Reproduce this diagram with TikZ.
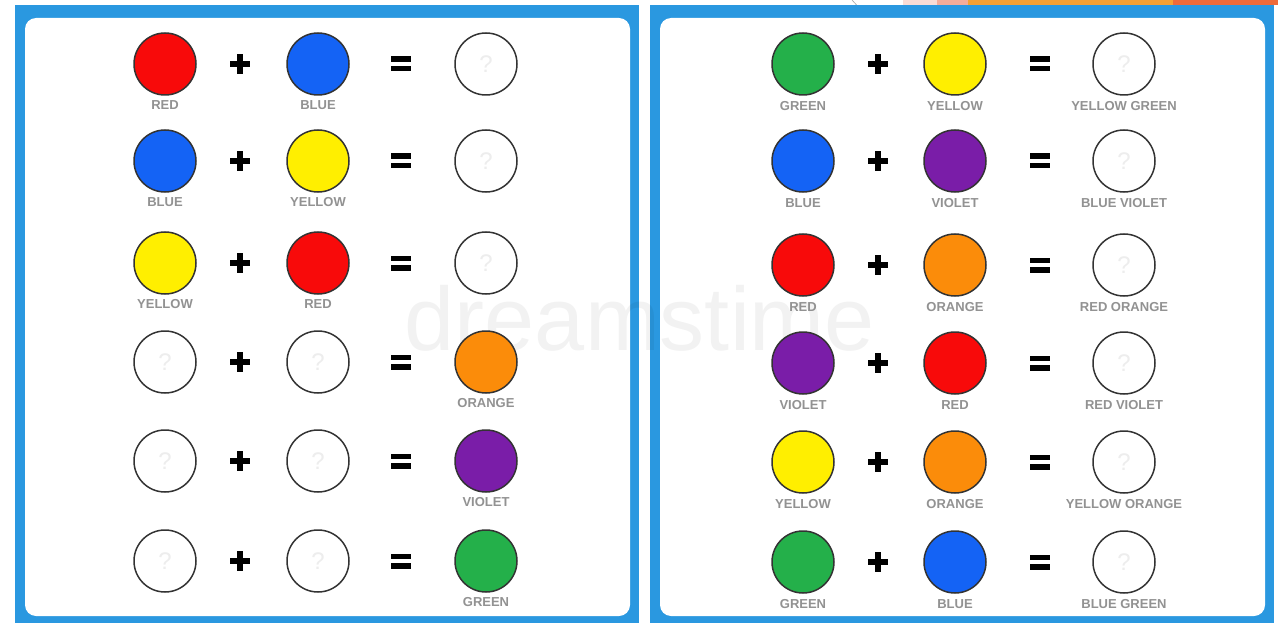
\documentclass[tikz,border=0pt]{standalone}
\usepackage{fontspec}
\setmainfont{Liberation Sans}
\definecolor{pred}{HTML}{F80A0A}
\definecolor{pblue}{HTML}{1463F5}
\definecolor{pyellow}{HTML}{FFEF00}
\definecolor{pgreen}{HTML}{24B04A}
\definecolor{porange}{HTML}{FB8C0A}
\definecolor{pviolet}{HTML}{7A1DA8}
\definecolor{pwhite}{HTML}{FFFFFF}
\definecolor{frameblue}{HTML}{2A98E0}
\definecolor{labelgray}{HTML}{929292}
\definecolor{stripPink}{HTML}{F9DCD6}
\definecolor{stripSalmon}{HTML}{F4AC9A}
\definecolor{stripOrange}{HTML}{F5A033}
\definecolor{stripRed}{HTML}{EE6A3A}
\begin{document}
\begin{tikzpicture}[x=1pt,y=-1pt,
  paint/.style={circle, draw=black!80, line width=1.5pt, minimum size=62pt, inner sep=0pt, fill=#1},
  qmark/.style={text=black!7, font=\fontsize{24}{24}\selectfont, inner sep=0pt},
  lbl/.style={font=\bfseries\fontsize{13}{13}\selectfont, text=labelgray, inner sep=0pt, anchor=center},
  plussign/.style={minimum size=20pt, inner sep=0pt, path picture={
    \fill[black] ([xshift=-10pt,yshift=-3pt]path picture bounding box.center) rectangle ([xshift=10pt,yshift=3pt]path picture bounding box.center);
    \fill[black] ([xshift=-3pt,yshift=-10pt]path picture bounding box.center) rectangle ([xshift=3pt,yshift=10pt]path picture bounding box.center);}},
  eqsign/.style={minimum width=20pt, minimum height=16pt, inner sep=0pt, path picture={
    \fill[black] ([xshift=-10pt,yshift=2pt]path picture bounding box.center) rectangle ([xshift=10pt,yshift=7.5pt]path picture bounding box.center);
    \fill[black] ([xshift=-10pt,yshift=-7.5pt]path picture bounding box.center) rectangle ([xshift=10pt,yshift=-2pt]path picture bounding box.center);}},
  frame/.style={fill=frameblue},
  inner/.style={fill=white, rounded corners=11pt}
]
\useasboundingbox (0,0) rectangle (1278,623);
\clip (0,0) rectangle (1278,623);
\fill[white] (0,0) rectangle (1278,623);
% top strip of another window
\draw[black!35, line width=0.6pt] (852,0) .. controls (855,2) .. (857,5.5);
\fill[stripPink] (903,0) rectangle (937,5.5);
\fill[stripSalmon] (937,0) rectangle (968,5.5);
\fill[stripOrange] (968,0) rectangle (1173,5.5);
\fill[stripRed] (1173,0) rectangle (1278,5.5);
% panels
\fill[frame] (15,5) rectangle (639,640);
\fill[inner] (25,18) rectangle (630,616);
\fill[frame] (650,5) rectangle (1274,640);
\fill[inner] (660,18) rectangle (1265,616);
% watermark
\node[text=black, text opacity=0.05, font=\fontsize{90}{90}\selectfont, inner sep=0pt] (wm) at (640,318) {dreamstime};
% left panel
\foreach \y/\a/\b/\c/\la/\lb/\lc/\i in {
  64/pred/pblue/pwhite/RED/BLUE//1,
  161/pblue/pyellow/pwhite/BLUE/YELLOW//2,
  263/pyellow/pred/pwhite/YELLOW/RED//3,
  362/pwhite/pwhite/porange///ORANGE/4,
  461/pwhite/pwhite/pviolet///VIOLET/5,
  561/pwhite/pwhite/pgreen///GREEN/6}{
  \node[paint=\a] (La\i) at (165,\y) {};
  \node[paint=\b] (Lb\i) at (318,\y) {};
  \node[paint=\c] (Lc\i) at (486,\y) {};
  \node[plussign] (Lp\i) at (240,\y) {};
  \node[eqsign] (Le\i) at (401,\y) {};
  \node[lbl] (Lla\i) at (165,\y+41) {\la};
  \node[lbl] (Llb\i) at (318,\y+41) {\lb};
  \node[lbl] (Llc\i) at (486,\y+41) {\lc};
}
% question marks in empty circles (left)
\foreach \n in {Lc1,Lc2,Lc3,La4,Lb4,La5,Lb5,La6,Lb6}{
  \node[qmark] (q\n) at (\n) {?};
}
% right panel
\foreach \y/\a/\b/\la/\lb/\lc/\i in {
  64/pgreen/pyellow/GREEN/YELLOW/YELLOW GREEN/1,
  161/pblue/pviolet/BLUE/VIOLET/BLUE VIOLET/2,
  265/pred/porange/RED/ORANGE/RED ORANGE/3,
  363/pviolet/pred/VIOLET/RED/RED VIOLET/4,
  462/pyellow/porange/YELLOW/ORANGE/YELLOW ORANGE/5,
  562/pgreen/pblue/GREEN/BLUE/BLUE GREEN/6}{
  \node[paint=\a] (Ra\i) at (803,\y) {};
  \node[paint=\b] (Rb\i) at (955,\y) {};
  \node[paint=white] (Rc\i) at (1124,\y) {};
  \node[qmark] (qRc\i) at (Rc\i) {?};
  \node[plussign] (Rp\i) at (878,\y) {};
  \node[eqsign] (Re\i) at (1040,\y) {};
  \node[lbl] (Rla\i) at (803,\y+42) {\la};
  \node[lbl] (Rlb\i) at (955,\y+42) {\lb};
  \node[lbl] (Rlc\i) at (1124,\y+42) {\lc};
}
\end{tikzpicture}
\end{document}
